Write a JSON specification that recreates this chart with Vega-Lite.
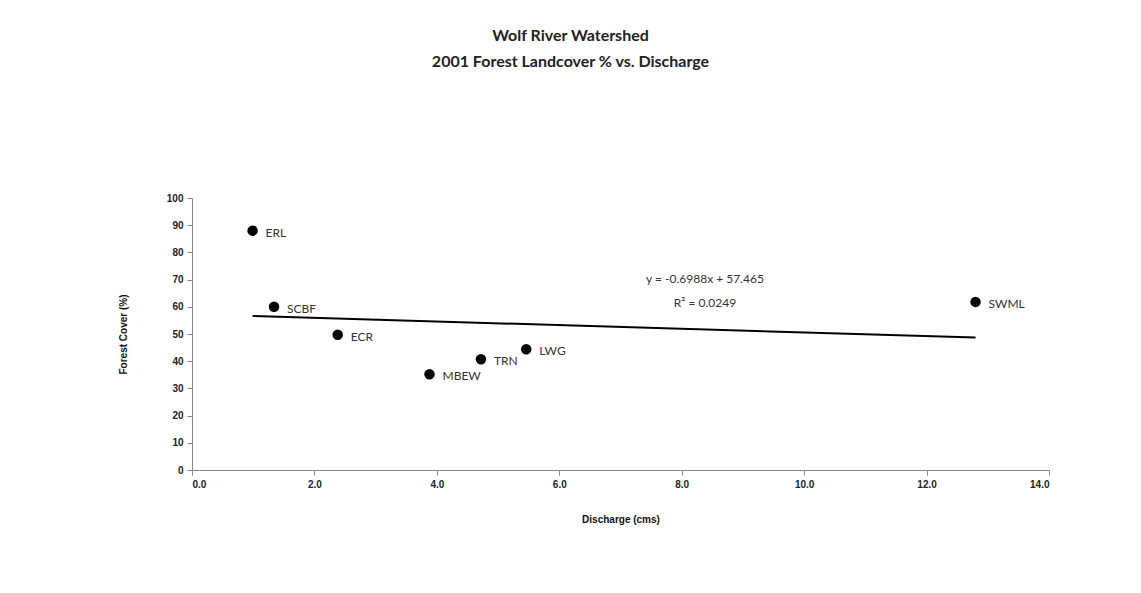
{
  "$schema": "https://vega.github.io/schema/vega-lite/v6.json",
  "width": 857,
  "height": 272,
  "autosize": "none",
  "padding": {"left": 192, "top": 198, "right": 92, "bottom": 123},
  "background": "white",
  "title": {
    "text": ["Wolf River Watershed", "2001 Forest Landcover % vs. Discharge"],
    "font": "Lato",
    "fontSize": 16,
    "fontWeight": "bold",
    "color": "#222222",
    "anchor": "middle",
    "dx": -50,
    "offset": 123,
    "lineHeight": 26
  },
  "datasets": {
    "sites": [
      {"site": "ERL", "discharge": 0.99, "forest": 88.0},
      {"site": "SCBF", "discharge": 1.34, "forest": 60.0},
      {"site": "ECR", "discharge": 2.38, "forest": 49.7},
      {"site": "MBEW", "discharge": 3.88, "forest": 35.2},
      {"site": "TRN", "discharge": 4.72, "forest": 40.7},
      {"site": "LWG", "discharge": 5.46, "forest": 44.4},
      {"site": "SWML", "discharge": 12.8, "forest": 61.8}
    ],
    "eq": [
      {"label": "y = -0.6988x + 57.465", "discharge": 8.38, "forest": 70.3},
      {"label": "R² = 0.0249", "discharge": 8.38, "forest": 61.5}
    ]
  },
  "encoding": {
    "x": {
      "field": "discharge", "type": "quantitative",
      "scale": {"domain": [0, 14], "nice": false, "zero": true},
      "axis": {
        "values": [0, 2, 4, 6, 8, 10, 12, 14],
        "format": ".1f",
        "title": "Discharge (cms)",
        "titlePadding": 25
      }
    },
    "y": {
      "field": "forest", "type": "quantitative",
      "scale": {"domain": [0, 100], "nice": false},
      "axis": {
        "values": [0, 10, 20, 30, 40, 50, 60, 70, 80, 90, 100],
        "title": "Forest Cover (%)",
        "titlePadding": 38
      }
    }
  },
  "layer": [
    {
      "data": {"name": "sites"},
      "transform": [{"regression": "forest", "on": "discharge"}],
      "mark": {"type": "line", "color": "black", "strokeWidth": 2}
    },
    {
      "data": {"name": "sites"},
      "mark": {"type": "circle", "size": 110, "color": "black", "opacity": 1}
    },
    {
      "data": {"name": "sites"},
      "mark": {"type": "text", "align": "left", "baseline": "middle", "dx": 13, "dy": 2, "font": "Lato", "fontSize": 12, "color": "#333333"},
      "encoding": {"text": {"field": "site"}}
    },
    {
      "data": {"name": "eq"},
      "mark": {"type": "text", "align": "center", "baseline": "middle", "font": "Lato", "fontSize": 12, "color": "#333333"},
      "encoding": {"text": {"field": "label"}}
    }
  ],
  "config": {
    "view": {"stroke": null},
    "axis": {
      "grid": false,
      "labelFont": "Liberation Sans Narrow, Liberation Sans",
      "labelFontSize": 10,
      "labelColor": "#222222",
      "labelFontWeight": "bold",
      "domainColor": "#888888",
      "tickColor": "#888888",
      "tickSize": 5,
      "labelPadding": 4,
      "titleFont": "Liberation Sans Narrow, Liberation Sans",
      "titleFontSize": 10,
      "titleFontWeight": "bold",
      "titleColor": "#111111"
    }
  }
}
